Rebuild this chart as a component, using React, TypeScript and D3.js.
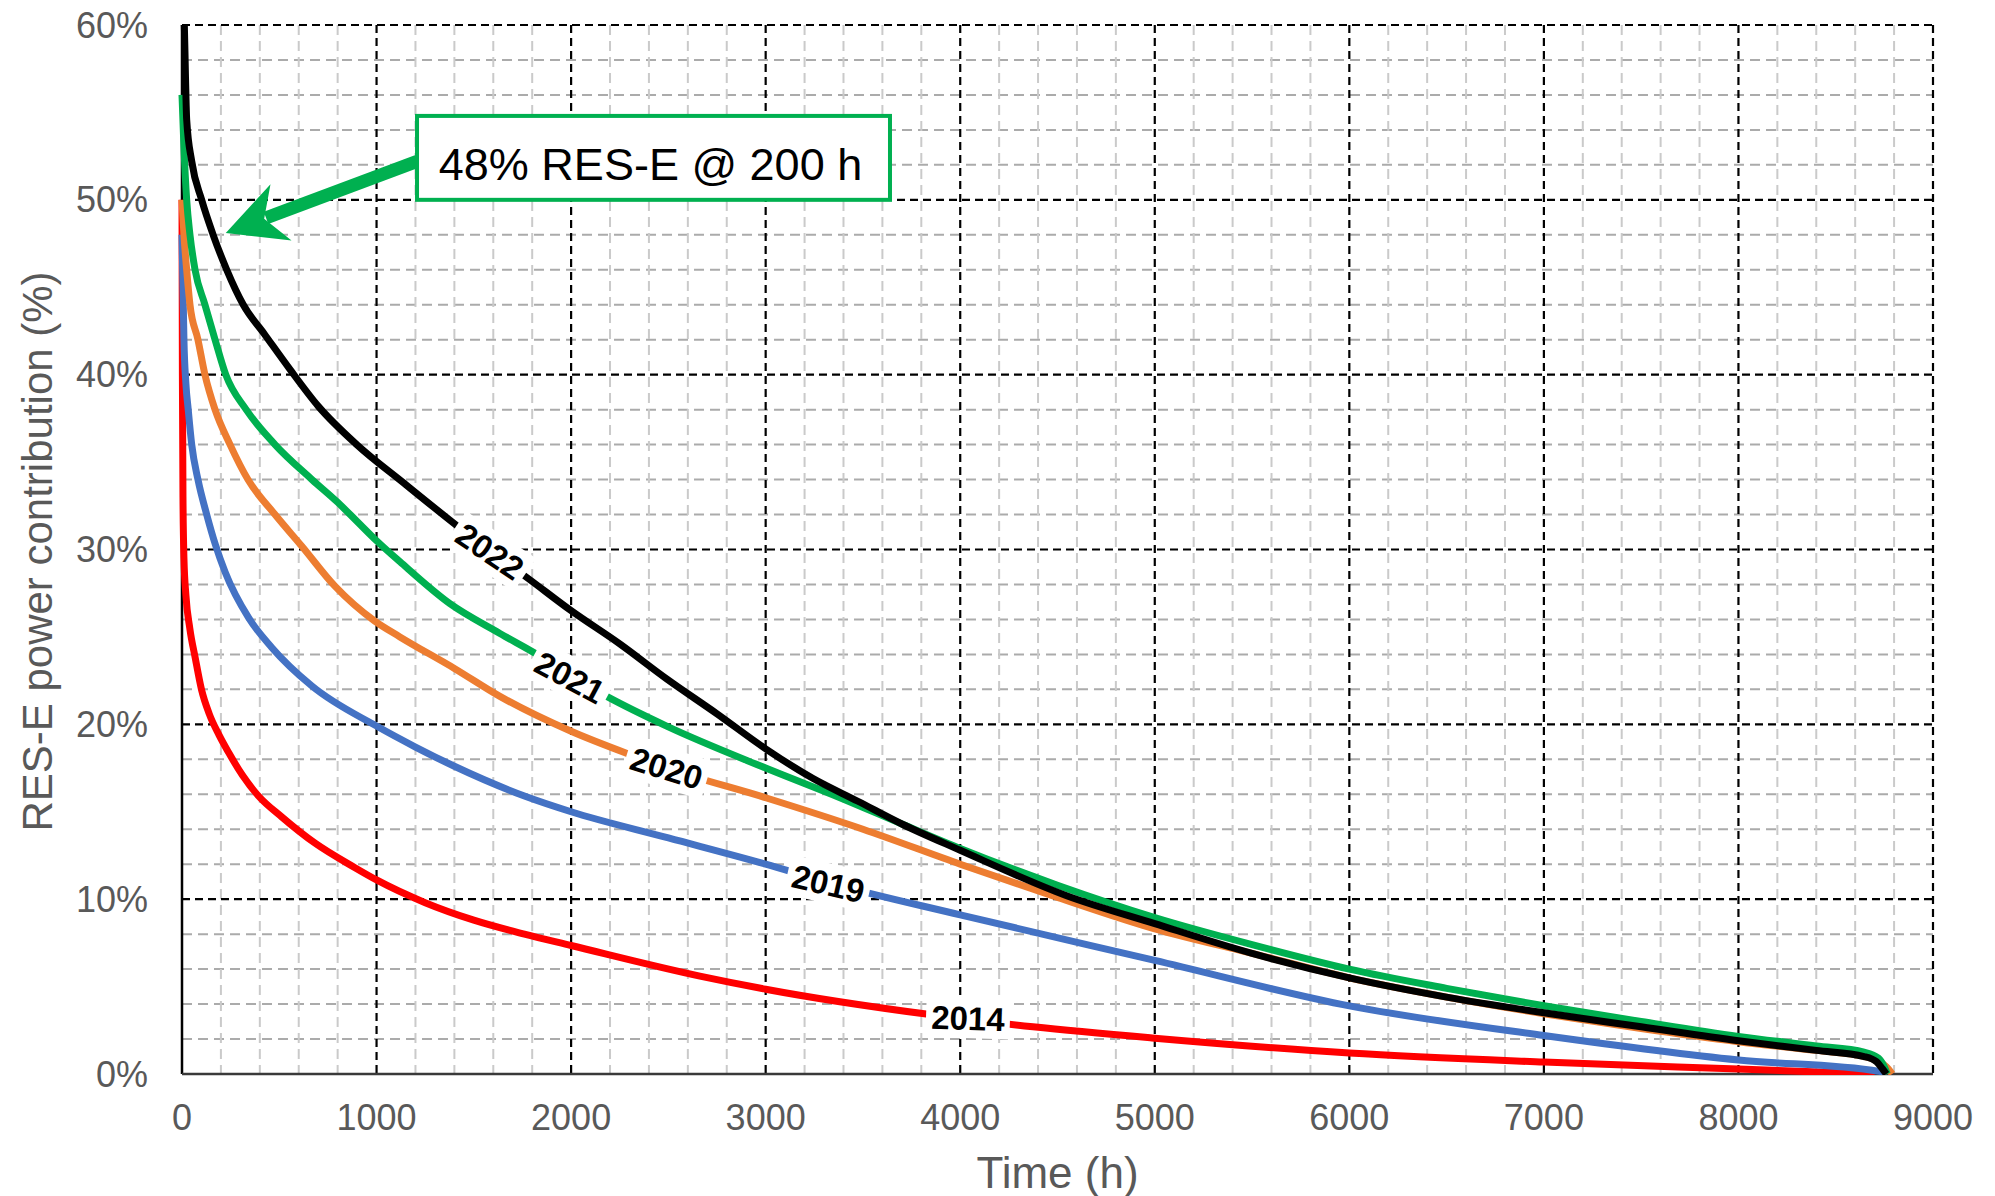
import React, { useEffect, useRef } from 'react';
import * as d3 from 'd3';

const WIDTH = 1995;
const HEIGHT = 1196;
const MARGIN = { top: 25, right: 62, bottom: 122, left: 182 };
const FONT = '"Liberation Sans", Arial, Helvetica, sans-serif';

type Pt = [number, number];

const X_TICKS = [0, 1000, 2000, 3000, 4000, 5000, 6000, 7000, 8000, 9000];
const Y_TICKS = [0, 10, 20, 30, 40, 50, 60];
const X_MINOR_STEP = 200;
const Y_MINOR_STEP = 2;

// duration curves, [hours, % RES-E]
const S2014: Pt[] = [
  [0, 50], [2, 40], [5, 33], [10, 29.5], [20, 27.4], [40, 25.5], [68, 23.8], [100, 22.0],
  [140, 20.6], [190, 19.4], [239, 18.4], [310, 17.1], [393, 15.9], [513, 14.7],
  [684, 13.2], [889, 11.8], [1000, 11.1], [1250, 9.8], [1500, 8.8], [1760, 8.0],
  [2000, 7.35], [2662, 5.6], [3000, 4.85], [3845, 3.4], [4374, 2.7], [5000, 2.05],
  [6000, 1.2], [7000, 0.68], [8000, 0.28], [8600, 0.04], [8700, 0],
];

const S2019: Pt[] = [
  [0, 48], [5, 45], [10, 42], [20, 39.5], [32, 38], [50, 36], [82, 34], [127, 32],
  [171, 30.3], [222, 28.7], [342, 26.1], [461, 24.4], [667, 22.2], [1000, 19.9],
  [1200, 18.7], [1400, 17.6], [1760, 15.9], [2000, 15.0], [2500, 13.5], [3000, 12.0],
  [3322, 10.95], [4000, 9.1], [5000, 6.5], [6000, 3.9], [7000, 2.2], [8000, 0.8],
  [8725, 0.15], [8760, 0],
];

const S2020: Pt[] = [
  [0, 50], [10, 48], [24, 46], [41, 44], [82, 42], [118, 40], [170, 38], [247, 36],
  [339, 34], [478, 32], [615, 30.2], [786, 27.9], [991, 25.9], [1120, 25.0],
  [1400, 23.2], [1634, 21.6], [2000, 19.6], [2319, 18.2], [2491, 17.5], [3000, 15.8],
  [3500, 14.0], [4000, 12.0], [4500, 10.1], [5000, 8.3], [5500, 6.9], [6000, 5.5],
  [6500, 4.4], [7000, 3.45], [7500, 2.6], [8000, 1.85], [8400, 1.35], [8650, 1.0],
  [8740, 0.6], [8770, 0.3], [8790, 0],
];

const S2021: Pt[] = [
  [0, 56], [10, 53], [24, 50], [41, 48], [67, 46], [118, 44], [170, 42], [225, 40],
  [330, 38], [478, 36], [668, 34], [800, 32.7], [900, 31.6], [1000, 30.5], [1120, 29.3],
  [1377, 26.9], [1634, 25.2], [1840, 23.9], [1994, 22.8], [2183, 21.6], [2491, 19.9],
  [3000, 17.5], [3382, 15.8], [3700, 14.3], [4000, 12.9], [4500, 10.8], [5000, 8.95],
  [5500, 7.4], [6000, 6.0], [6500, 4.9], [7000, 3.9], [7500, 3.0], [8000, 2.15],
  [8400, 1.6], [8646, 1.25], [8720, 0.9], [8750, 0.4], [8765, 0],
];

const S2022: Pt[] = [
  [0, 62], [12, 60], [18, 57], [24, 54.6], [50, 52.2], [101, 50], [160, 48], [230, 46],
  [315, 44], [425, 42.3], [555, 40.3], [700, 38.2], [898, 36], [1140, 33.8], [1420, 31.3],
  [1583, 29.9], [1760, 28.5], [2000, 26.5], [2250, 24.6], [2491, 22.6], [2750, 20.6],
  [3000, 18.6], [3244, 16.9], [3474, 15.6], [3700, 14.3], [4000, 12.8], [4547, 10.2],
  [5000, 8.6], [5500, 6.9], [6000, 5.5], [6500, 4.4], [7000, 3.5], [7500, 2.7],
  [8000, 1.9], [8400, 1.35], [8646, 1.0], [8710, 0.7], [8740, 0.3], [8760, 0],
];

const SERIES = [
  { year: '2014', color: '#FF0000', data: S2014 },
  { year: '2019', color: '#4472C4', data: S2019 },
  { year: '2020', color: '#ED7D31', data: S2020 },
  { year: '2021', color: '#00B050', data: S2021 },
  { year: '2022', color: '#000000', data: S2022 },
];

// inline year labels: centre (h, %) and rotation in degrees
const LABELS = [
  { text: '2022', t: 1583, v: 29.9, angle: 34 },
  { text: '2021', t: 1994, v: 22.7, angle: 28 },
  { text: '2020', t: 2491, v: 17.5, angle: 17 },
  { text: '2019', t: 3322, v: 10.9, angle: 13 },
  { text: '2014', t: 4040, v: 3.2, angle: 2 },
];

const NOTE = {
  text: '48% RES-E @ 200 h',
  box: { t0: 1208, t1: 3639, v0: 50.0, v1: 54.8 },
  from: { t: 1208, v: 52.2 },
  tip: { t: 225, v: 48.1 },
};

const App: React.FC = () => {
  const ref = useRef<SVGSVGElement>(null);

  useEffect(() => {
    const svg = d3.select(ref.current);
    svg.selectAll('*').remove();

    const x = d3
      .scaleLinear()
      .domain([0, 9000])
      .range([MARGIN.left, WIDTH - MARGIN.right]);
    const y = d3
      .scaleLinear()
      .domain([0, 60])
      .range([HEIGHT - MARGIN.bottom, MARGIN.top]);

    const [x0, x1] = x.range();
    const [y0, y1] = y.range();

    svg.append('rect').attr('width', WIDTH).attr('height', HEIGHT).attr('fill', '#fff');

    // minor grid
    const xMinor = d3.range(0, 9001, X_MINOR_STEP).filter((d) => d % 1000 !== 0);
    const yMinor = d3.range(0, 61, Y_MINOR_STEP).filter((d) => d % 10 !== 0);
    const grid = svg.append('g');
    grid
      .selectAll('line.ymin')
      .data(yMinor)
      .join('line')
      .attr('x1', x0)
      .attr('x2', x1)
      .attr('y1', (d) => y(d))
      .attr('y2', (d) => y(d))
      .attr('stroke', '#ABABAB')
      .attr('stroke-width', 2)
      .attr('stroke-dasharray', '10,6');
    grid
      .selectAll('line.xmin')
      .data(xMinor)
      .join('line')
      .attr('x1', (d) => x(d))
      .attr('x2', (d) => x(d))
      .attr('y1', y1)
      .attr('y2', y0)
      .attr('stroke', '#CACACA')
      .attr('stroke-width', 2)
      .attr('stroke-dasharray', '10,6');

    // major grid
    const major = svg.append('g');
    major
      .selectAll('line.ymaj')
      .data(Y_TICKS.filter((d) => d > 0))
      .join('line')
      .attr('x1', x0)
      .attr('x2', x1)
      .attr('y1', (d) => y(d))
      .attr('y2', (d) => y(d))
      .attr('stroke', '#000')
      .attr('stroke-width', 2.2)
      .attr('stroke-dasharray', '8,5');
    major
      .selectAll('line.xmaj')
      .data(X_TICKS.filter((d) => d > 0))
      .join('line')
      .attr('x1', (d) => x(d))
      .attr('x2', (d) => x(d))
      .attr('y1', y1)
      .attr('y2', y0)
      .attr('stroke', '#000')
      .attr('stroke-width', 2.2)
      .attr('stroke-dasharray', '8,5');

    // axes lines
    svg.append('line').attr('x1', x0).attr('x2', x0).attr('y1', y1).attr('y2', y0)
      .attr('stroke', '#000').attr('stroke-width', 2.5);
    svg.append('line').attr('x1', x0).attr('x2', x1).attr('y1', y0).attr('y2', y0)
      .attr('stroke', '#3a3a3a').attr('stroke-width', 2.5);

    // tick labels
    svg
      .append('g')
      .selectAll('text')
      .data(Y_TICKS)
      .join('text')
      .attr('x', x0 - 34)
      .attr('y', (d) => y(d) + 12.5)
      .attr('text-anchor', 'end')
      .attr('font-family', FONT)
      .attr('font-size', 36)
      .attr('fill', '#595959')
      .text((d) => `${d}%`);
    svg
      .append('g')
      .selectAll('text')
      .data(X_TICKS)
      .join('text')
      .attr('x', (d) => x(d))
      .attr('y', y0 + 56)
      .attr('text-anchor', 'middle')
      .attr('font-family', FONT)
      .attr('font-size', 36)
      .attr('fill', '#595959')
      .text((d) => `${d}`);

    // axis titles
    svg
      .append('text')
      .attr('x', (x0 + x1) / 2)
      .attr('y', y0 + 114)
      .attr('text-anchor', 'middle')
      .attr('font-family', FONT)
      .attr('font-size', 44)
      .attr('fill', '#595959')
      .text('Time (h)');
    svg
      .append('text')
      .attr('transform', `translate(37,${(y0 + y1) / 2 + 2}) rotate(-90)`)
      .attr('text-anchor', 'middle')
      .attr('dy', '0.35em')
      .attr('font-family', FONT)
      .attr('font-size', 42)
      .attr('fill', '#595959')
      .text('RES-E power contribution (%)');

    // series
    svg
      .append('clipPath')
      .attr('id', 'plot-clip')
      .append('rect')
      .attr('x', x0 - 6)
      .attr('y', y1)
      .attr('width', x1 - x0 + 6)
      .attr('height', y0 - y1 + 1);

    const line = d3
      .line<Pt>()
      .x((d) => x(d[0]))
      .y((d) => y(d[1]))
      .curve(d3.curveMonotoneX);

    svg
      .append('g')
      .attr('clip-path', 'url(#plot-clip)')
      .selectAll('path')
      .data(SERIES)
      .join('path')
      .attr('d', (d) => line(d.data))
      .attr('fill', 'none')
      .attr('stroke', (d) => d.color)
      .attr('stroke-width', 7)
      .attr('stroke-linejoin', 'round')
      .attr('stroke-linecap', 'butt');

    // year labels
    const lab = svg
      .append('g')
      .selectAll('g')
      .data(LABELS)
      .join('g')
      .attr('transform', (d) => `translate(${x(d.t)},${y(d.v)}) rotate(${d.angle})`);
    lab
      .append('rect')
      .attr('x', -42)
      .attr('y', -20)
      .attr('width', 84)
      .attr('height', 40)
      .attr('fill', '#fff');
    lab
      .append('text')
      .attr('text-anchor', 'middle')
      .attr('dy', '0.36em')
      .attr('font-family', FONT)
      .attr('font-weight', 'bold')
      .attr('font-size', 33)
      .attr('fill', '#000')
      .text((d) => d.text);

    // annotation arrow + box
    const green = '#00B050';
    const sx = x(NOTE.from.t);
    const sy = y(NOTE.from.v);
    const tx = x(NOTE.tip.t);
    const ty = y(NOTE.tip.v);
    const len = Math.hypot(tx - sx, ty - sy);
    const ux = (tx - sx) / len;
    const uy = (ty - sy) / len;
    const nx = -uy;
    const ny = ux;
    const headL = 59;
    const headW = 30;
    const notch = 18;
    const back = headL - notch;
    svg
      .append('line')
      .attr('x1', sx)
      .attr('y1', sy)
      .attr('x2', tx - ux * (back + 2))
      .attr('y2', ty - uy * (back + 2))
      .attr('stroke', green)
      .attr('stroke-width', 13);
    const head: Pt[] = [
      [tx, ty],
      [tx - ux * headL + nx * headW, ty - uy * headL + ny * headW],
      [tx - ux * back, ty - uy * back],
      [tx - ux * headL - nx * headW, ty - uy * headL - ny * headW],
    ];
    svg
      .append('polygon')
      .attr('points', head.map((p) => p.join(',')).join(' '))
      .attr('fill', green);

    const bx0 = x(NOTE.box.t0);
    const bx1 = x(NOTE.box.t1);
    const by0 = y(NOTE.box.v1);
    const by1 = y(NOTE.box.v0);
    svg
      .append('rect')
      .attr('x', bx0)
      .attr('y', by0)
      .attr('width', bx1 - bx0)
      .attr('height', by1 - by0)
      .attr('fill', '#fff')
      .attr('stroke', green)
      .attr('stroke-width', 4);
    svg
      .append('text')
      .attr('x', (bx0 + bx1) / 2 - 3)
      .attr('y', (by0 + by1) / 2 + 22)
      .attr('text-anchor', 'middle')
      .attr('font-family', FONT)
      .attr('font-size', 45)
      .attr('fill', '#000')
      .text(NOTE.text);
  }, []);

  return (
    <svg
      ref={ref}
      width={WIDTH}
      height={HEIGHT}
      style={{ position: 'absolute', left: 0, top: 0, display: 'block' }}
    />
  );
};

export default App;
